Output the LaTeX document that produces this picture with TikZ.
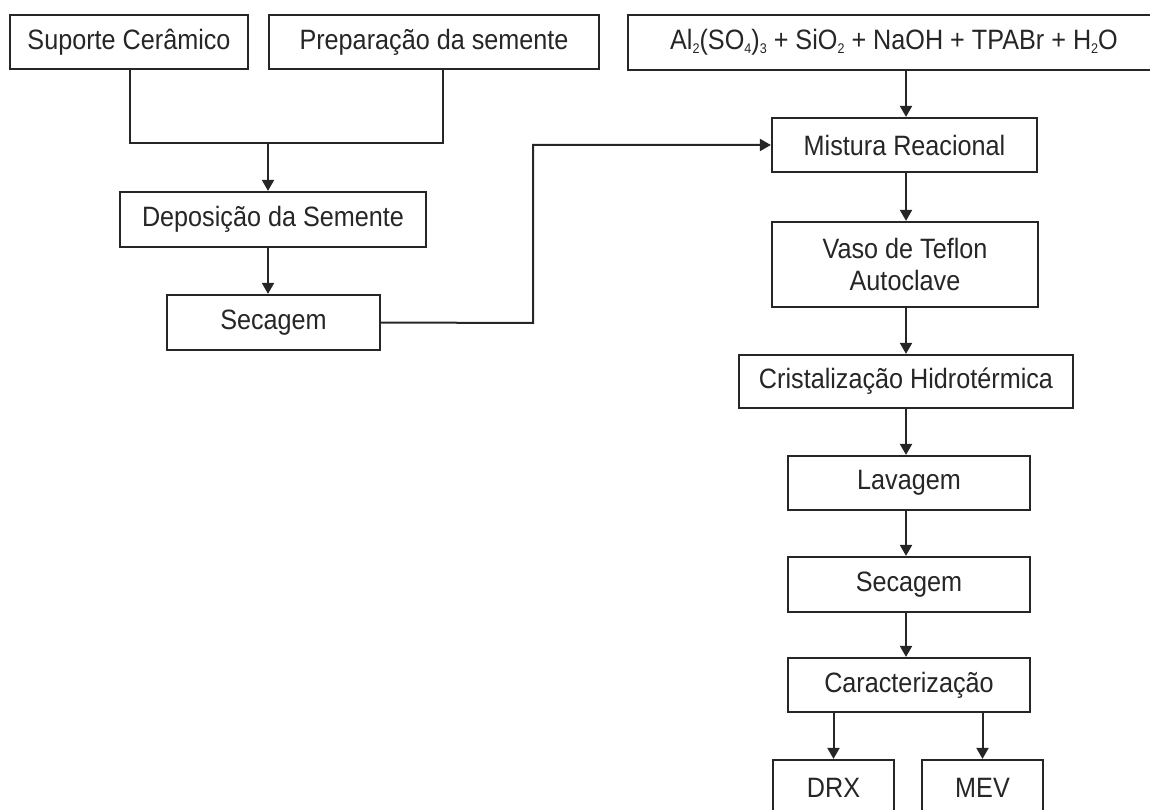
\documentclass[tikz,border=0pt]{standalone}
\usepackage{fontspec}
\setmainfont{Liberation Sans}[FakeStretch=0.9]
\usetikzlibrary{arrows.meta}
\newcommand\sbs[1]{\raisebox{-4pt}{\fontsize{14}{14}\selectfont #1}}
\begin{document}
\begin{tikzpicture}[x=1pt,y=-1pt,
  box/.style={draw=black!85, line width=2.2pt, fill=white, inner sep=0pt, align=center,
    text=black!85, font=\fontsize{28}{32}\selectfont},
  link/.style={draw=black!85, line width=2pt},
  arr/.style={link, -{Triangle[length=11pt,width=12pt]}}]
\useasboundingbox (0,0) rectangle (1150,810);
\node[box, minimum width=238pt, minimum height=54pt] (sup) at (129,42) {Suporte Cerâmico};
\node[box, minimum width=330pt, minimum height=54pt] (prep) at (434,42) {Preparação da semente};
\node[box, minimum width=532pt, minimum height=55pt] (al) at (894,42.5)
  {Al\sbs{2}(SO\sbs{4})\sbs{3} + SiO\sbs{2} + NaOH + TPABr + H\sbs{2}O};
\node[box, minimum width=265pt, minimum height=54pt] (mis) at (904.5,145) {Mistura Reacional};
\node[box, minimum width=306pt, minimum height=55pt] (dep) at (273,219.5) {Deposição da Semente};
\node[box, minimum width=266pt, minimum height=85pt] (vaso) at (905,264.5) {Vaso de Teflon\\Autoclave};
\node[box, minimum width=213pt, minimum height=55pt] (sec1) at (273.5,322.5) {Secagem};
\node[box, minimum width=334pt, minimum height=53pt] (cri) at (906,381.5) {Cristalização Hidrotérmica};
\node[box, minimum width=242pt, minimum height=54pt] (lav) at (909,483) {Lavagem};
\node[box, minimum width=242pt, minimum height=55pt] (sec2) at (909,584.5) {Secagem};
\node[box, minimum width=242pt, minimum height=54pt] (car) at (909,685) {Caracterização};
\node[box, minimum width=121pt, minimum height=56pt] (drx) at (833.5,788) {DRX};
\node[box, minimum width=121pt, minimum height=56pt] (mev) at (982.5,788) {MEV};
\coordinate (jl) at (130,143);
\coordinate (jr) at (443,143);
\coordinate (jm) at (268,143);
\coordinate (bend) at (533,323);
\coordinate (col) at (906,0);
\draw[link] (jl |- sup.south) -- (jl) -- (jr) -- (jr |- prep.south);
\draw[arr] (jm) -- (jm |- dep.north);
\draw[arr] (jm |- dep.south) -- (jm |- sec1.north);
\draw[arr] (sec1.east) -- (bend) |- (mis.west);
\draw[arr] (col |- al.south) -- (col |- mis.north);
\draw[arr] (col |- mis.south) -- (col |- vaso.north);
\draw[arr] (col |- vaso.south) -- (col |- cri.north);
\draw[arr] (col |- cri.south) -- (col |- lav.north);
\draw[arr] (col |- lav.south) -- (col |- sec2.north);
\draw[arr] (col |- sec2.south) -- (col |- car.north);
\draw[arr] (drx.north |- car.south) -- (drx.north);
\draw[arr] (mev.north |- car.south) -- (mev.north);
\end{tikzpicture}
\end{document}
